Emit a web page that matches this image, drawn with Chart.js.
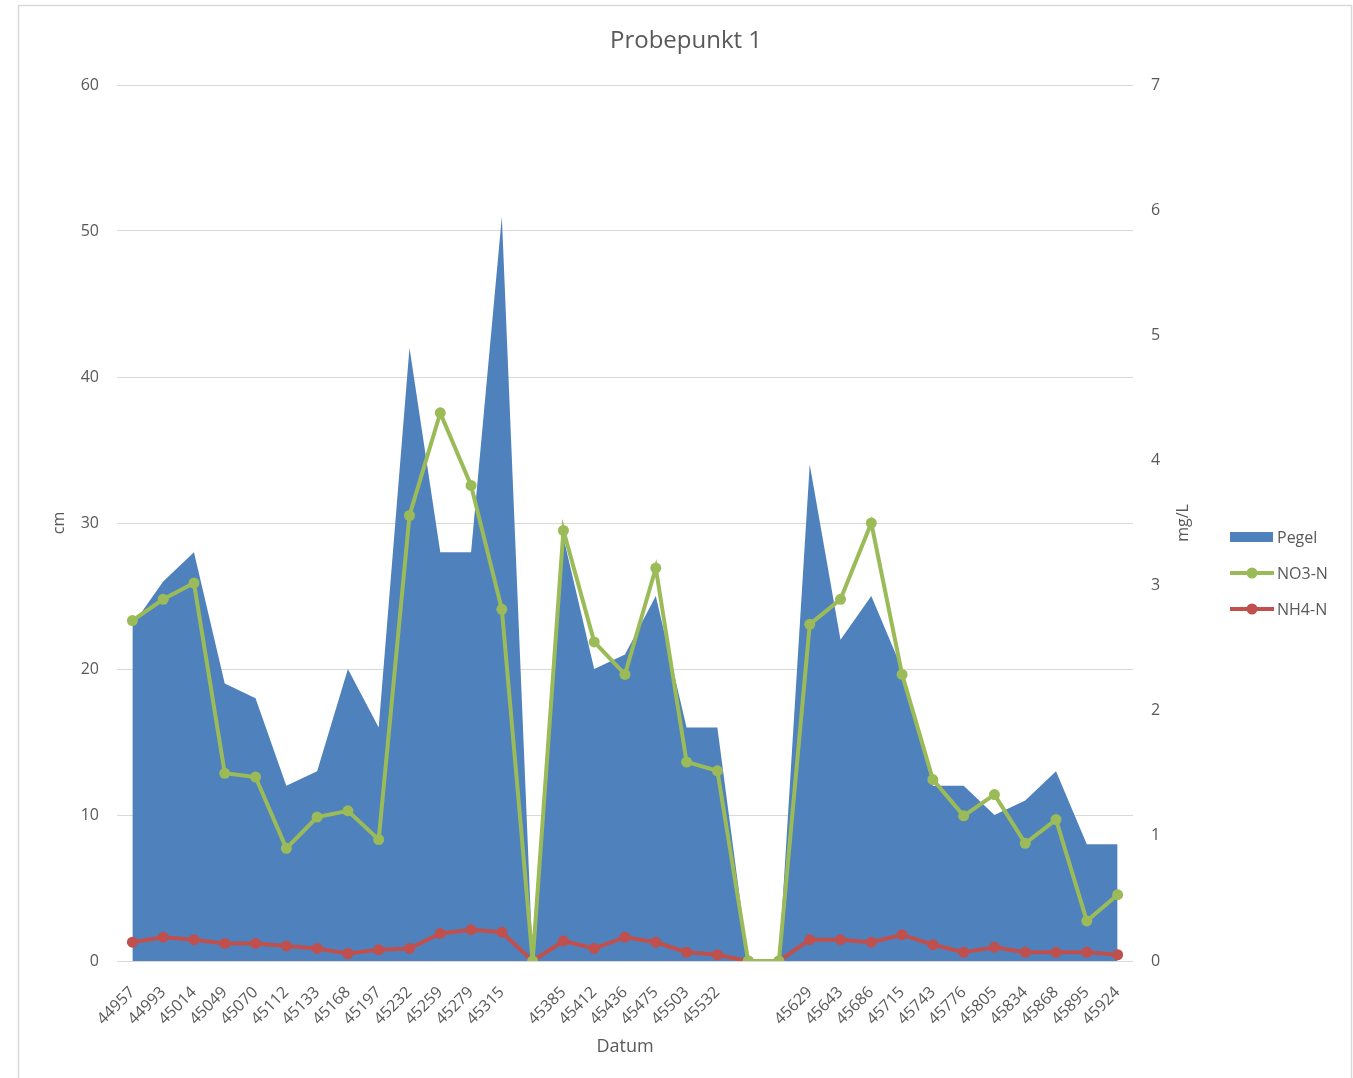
<!DOCTYPE html>
<html>
<head>
<meta charset="utf-8">
<script src="https://cdn.jsdelivr.net/npm/chart.js@4"></script>
<style>
  html, body { margin: 0; padding: 0; background: #fff; }
  #wrap { width: 1353px; height: 1078px; }
</style>
</head>
<body>
<div id="wrap"><canvas id="c" width="1353" height="1078"></canvas></div>
<script>
// dates (Excel serial numbers), blanks where Excel left the label out
const labels = ['44957','44993','45014','45049','45070','45112','45133','45168','45197','45232','45259','45279','45315','',
  '45385','45412','45436','45475','45503','45532','','',
  '45629','45643','45686','45715','45743','45776','45805','45834','45868','45895','45924'];

// Pegel in cm (left axis)
const pegel = [23,26,28,19,18,12,13,20,16,42,28,28,51,0,29,20,21,25,16,16,0,0,34,22,25,20,12,12,10,11,13,8,8];

// NO3-N and NH4-N in mg/L (right axis)
const no3 = [2.72,2.89,3.02,1.50,1.47,0.90,1.15,1.20,0.97,3.56,4.38,3.80,2.81,0,3.44,2.55,2.29,3.14,1.59,1.52,0,0,
  2.69,2.89,3.50,2.29,1.45,1.16,1.33,0.94,1.13,0.32,0.53];
const nh4 = [0.15,0.19,0.17,0.14,0.14,0.12,0.10,0.06,0.09,0.10,0.22,0.25,0.23,0,0.16,0.10,0.19,0.15,0.07,0.05,0,0,
  0.17,0.17,0.15,0.21,0.13,0.07,0.11,0.07,0.07,0.07,0.05];

const blue = '#4F81BD', green = '#9BBB59', red = '#C0504D';
const textCol = '#595959', gridCol = '#d9d9d9';
const FONT = "'Open Sans', 'Noto Sans', sans-serif";

// white bg + frame, title, right axis title, legend
const extras = {
  id: 'extras',
  beforeDraw(chart) {
    const ctx = chart.ctx;
    ctx.save();
    ctx.fillStyle = '#fff';
    ctx.fillRect(0, 0, chart.width, chart.height);
    ctx.strokeStyle = gridCol;
    ctx.lineWidth = 1.5;
    ctx.strokeRect(18.5, 5.5, 1333, 1200);
    ctx.restore();
  },
  afterDraw(chart) {
    const ctx = chart.ctx;
    const ca = chart.chartArea;
    ctx.save();
    ctx.fillStyle = textCol;
    ctx.textAlign = 'center';
    ctx.textBaseline = 'middle';
    ctx.font = '24px ' + FONT;
    ctx.fillText('Probepunkt 1', 686, 41);
    ctx.font = '16px ' + FONT;
    // mg/L, reads bottom to top
    ctx.translate(ca.right + 50, (ca.top + ca.bottom) / 2);
    ctx.rotate(-Math.PI / 2);
    ctx.fillText('mg/L', 0, 0);
    ctx.restore();

    // legend
    const items = [
      { text: 'Pegel', color: blue, kind: 'box' },
      { text: 'NO3-N', color: green, kind: 'line' },
      { text: 'NH4-N', color: red, kind: 'line' }
    ];
    const x0 = 1230, y0 = 537, dy = 36;
    ctx.save();
    ctx.font = '16px ' + FONT;
    ctx.textBaseline = 'middle';
    ctx.textAlign = 'left';
    items.forEach((it, i) => {
      const y = y0 + i * dy;
      if (it.kind === 'box') {
        ctx.fillStyle = it.color;
        ctx.fillRect(x0, y - 5, 43, 10);
      } else {
        ctx.strokeStyle = it.color;
        ctx.lineWidth = 4;
        ctx.beginPath();
        ctx.moveTo(x0, y);
        ctx.lineTo(x0 + 44, y);
        ctx.stroke();
        ctx.fillStyle = it.color;
        ctx.beginPath();
        ctx.arc(x0 + 22, y, 5.5, 0, Math.PI * 2);
        ctx.fill();
      }
      ctx.fillStyle = textCol;
      ctx.fillText(it.text, x0 + 47, y + 1);
    });
    ctx.restore();
  }
};

new Chart(document.getElementById('c'), {
  type: 'line',
  data: {
    labels: labels,
    datasets: [
      {
        label: 'Pegel',
        data: pegel,
        yAxisID: 'y',
        fill: 'origin',
        backgroundColor: blue,
        borderColor: blue,
        borderWidth: 0,
        pointRadius: 0,
        tension: 0,
        order: 3
      },
      {
        label: 'NO3-N',
        data: no3,
        yAxisID: 'y1',
        fill: false,
        borderColor: green,
        backgroundColor: green,
        borderWidth: 4,
        pointRadius: 5.5,
        pointBorderWidth: 0,
        pointBackgroundColor: green,
        tension: 0,
        order: 1
      },
      {
        label: 'NH4-N',
        data: nh4,
        yAxisID: 'y1',
        fill: false,
        borderColor: red,
        backgroundColor: red,
        borderWidth: 4,
        pointRadius: 5.5,
        pointBorderWidth: 0,
        pointBackgroundColor: red,
        tension: 0,
        order: 2
      }
    ]
  },
  options: {
    responsive: false,
    devicePixelRatio: 1,
    animation: false,
    layout: { padding: { left: 0, top: 85, right: 130, bottom: 17 } },
    plugins: {
      legend: { display: false },
      tooltip: { enabled: false },
      title: { display: false }
    },
    scales: {
      x: {
        offset: true,
        grid: { display: false },
        border: { display: false },
        ticks: {
          color: textCol,
          font: { family: FONT, size: 16 },
          autoSkip: false,
          minRotation: 45,
          maxRotation: 45,
          padding: 14
        },
        title: {
          display: true,
          text: 'Datum',
          color: textCol,
          font: { family: FONT, size: 18 },
          padding: { top: 0, bottom: 3 }
        },
        afterFit(s) { s.height = 100; }
      },
      y: {
        position: 'left',
        min: 0,
        max: 60,
        grid: { color: gridCol, lineWidth: 1, drawTicks: false },
        border: { display: false },
        ticks: {
          stepSize: 10,
          color: textCol,
          font: { family: FONT, size: 16 },
          padding: 18
        },
        title: {
          display: true,
          text: 'cm',
          color: textCol,
          font: { family: FONT, size: 16 },
          padding: { top: 50, bottom: 0 }
        },
        afterFit(s) { s.width = 117; }
      },
      y1: {
        position: 'right',
        min: 0,
        max: 7,
        grid: { drawOnChartArea: false, drawTicks: false },
        border: { display: false },
        ticks: {
          stepSize: 1,
          color: textCol,
          font: { family: FONT, size: 16 },
          padding: 18
        },
        afterFit(s) { s.width = 90; }
      }
    }
  },
  plugins: [extras]
});
</script>
</body>
</html>
